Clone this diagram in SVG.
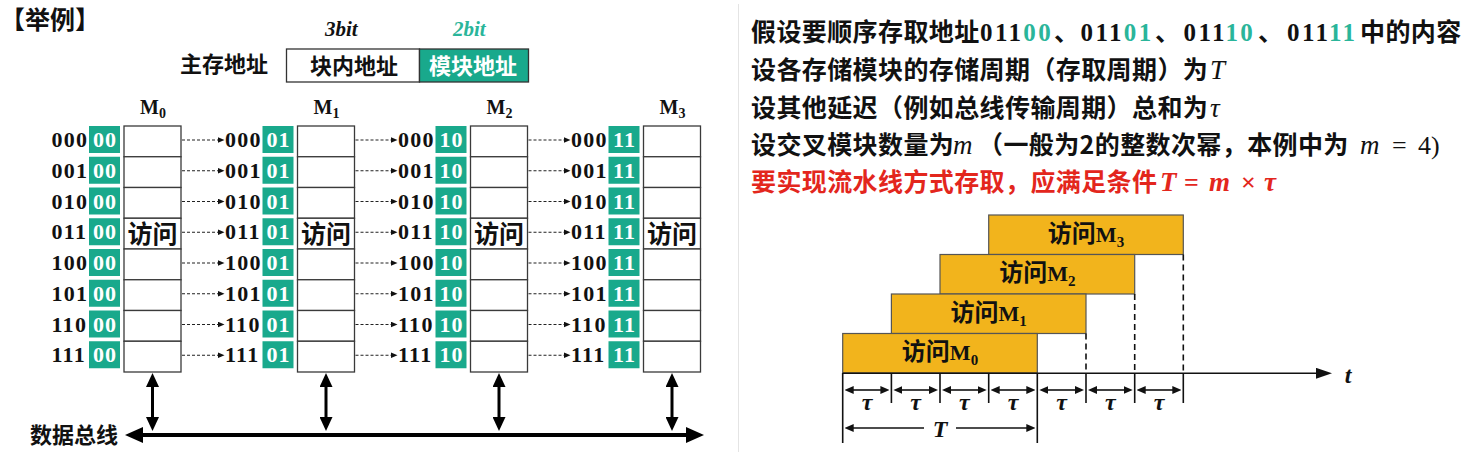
<svg xmlns="http://www.w3.org/2000/svg" width="1467" height="452" viewBox="0 0 1467 452">
<defs>
<style>
.cjk{font-family:"Noto Sans CJK SC","Noto Sans",sans-serif;font-weight:bold;fill:#111}
.ser{font-family:"Liberation Serif",serif;font-weight:bold;fill:#111}
.bin{font-family:"Liberation Serif",serif;font-weight:bold;font-size:22px;letter-spacing:1.3px;fill:#111}
.binw{font-family:"Liberation Serif",serif;font-weight:bold;font-size:22px;letter-spacing:1px;fill:#fff;text-anchor:middle}
.cell{fill:#fff;stroke:#3a3a3a;stroke-width:1.3}
.gbox{fill:#19a98c}
.dash{stroke:#222;stroke-width:1.2;stroke-dasharray:3 2;fill:none;marker-end:url(#ah-s)}
.bus{stroke:#000;stroke-width:4;fill:none;marker-start:url(#ah-b);marker-end:url(#ah-b)}
.vbus{stroke:#000;stroke-width:3;fill:none;marker-start:url(#ah-v);marker-end:url(#ah-v)}
.rt{font-family:"Noto Sans CJK SC","Noto Sans",sans-serif;font-weight:bold;font-size:25px;letter-spacing:0.4px;fill:#111}
.num{font-family:"Liberation Serif",serif;font-weight:bold;font-size:25px;letter-spacing:2.4px}
.math{font-family:"Liberation Serif",serif;font-style:italic;font-weight:normal;font-size:27px;letter-spacing:0}
.up{font-family:"Liberation Serif",serif;font-style:normal;font-weight:normal;font-size:26px;letter-spacing:0}
.bar{fill:#f2b41c;stroke:#555;stroke-width:1.2}
.tick{stroke:#111;stroke-width:1.6}
.vd{stroke:#111;stroke-width:1.6;stroke-dasharray:6 4}
.dim{stroke:#111;stroke-width:1.6;fill:none}
.dimb{stroke:#111;stroke-width:1.6;fill:none;marker-start:url(#ah-t);marker-end:url(#ah-t)}
.tau{font-family:"Liberation Serif",serif;font-style:italic;font-weight:bold;font-size:24px;fill:#111;text-anchor:middle}
</style>
<marker id="ah-s" markerUnits="userSpaceOnUse" markerWidth="7" markerHeight="6" refX="1" refY="3" orient="auto"><path d="M0,0 L7,3 L0,6 z" fill="#111"/></marker>
<marker id="ah-b" markerUnits="userSpaceOnUse" markerWidth="18" markerHeight="16" refX="2" refY="8" orient="auto-start-reverse"><path d="M0,0 L18,8 L0,16 z" fill="#000"/></marker>
<marker id="ah-v" markerUnits="userSpaceOnUse" markerWidth="14" markerHeight="13" refX="2" refY="6.5" orient="auto-start-reverse"><path d="M0,0 L14,6.5 L0,13 z" fill="#000"/></marker>
<marker id="ah-t" markerUnits="userSpaceOnUse" markerWidth="9" markerHeight="8" refX="1" refY="4" orient="auto-start-reverse"><path d="M0,0 L9,4 L0,8 z" fill="#111"/></marker>
<marker id="ah-x" markerUnits="userSpaceOnUse" markerWidth="16" markerHeight="11" refX="1" refY="5.5" orient="auto"><path d="M0,0 L16,5.5 L0,11 z" fill="#111"/></marker>
</defs>
<rect width="1467" height="452" fill="#fff"/>
<line x1="738.5" y1="4" x2="738.5" y2="452" stroke="#e4e4e4" stroke-width="1"/>

<g id="title">
<text class="cjk" x="0" y="29" font-size="25">【举例】</text>
</g>

<g id="address-format">
<text class="ser" x="325" y="36" font-size="21" font-style="italic">3bit</text>
<text class="ser" x="453" y="36" font-size="21" font-style="italic" style="fill:#2ab59a">2bit</text>
<text class="cjk" x="180" y="72" font-size="22">主存地址</text>
<rect x="286.5" y="49" width="133" height="33" fill="#fff" stroke="#333" stroke-width="1.3"/>
<rect x="419.5" y="49" width="109" height="33" class="gbox" stroke="#333" stroke-width="1.3"/>
<text class="cjk" x="310" y="74" font-size="22">块内地址</text>
<text class="cjk" x="429" y="74" font-size="22" style="fill:#fff">模块地址</text>
</g>

<g id="module-m0" transform="translate(124,0)">
<text class="ser" x="16" y="114" font-size="20">M<tspan font-size="14" dy="4">0</tspan></text>
<rect class="cell" x="0" y="126" width="57" height="30.75"/><rect class="cell" x="0" y="156.75" width="57" height="30.75"/><rect class="cell" x="0" y="187.5" width="57" height="30.75"/><rect class="cell" x="0" y="218.25" width="57" height="30.75"/><rect class="cell" x="0" y="249" width="57" height="30.75"/><rect class="cell" x="0" y="279.75" width="57" height="30.75"/><rect class="cell" x="0" y="310.5" width="57" height="30.75"/><rect class="cell" x="0" y="341.25" width="57" height="30.75"/>
<text class="cjk" x="28.5" y="242.5" font-size="25" text-anchor="middle">访问</text>
<rect class="gbox" x="-35" y="126" width="31" height="27"/><rect class="gbox" x="-35" y="156.75" width="31" height="27"/><rect class="gbox" x="-35" y="187.5" width="31" height="27"/><rect class="gbox" x="-35" y="218.25" width="31" height="27"/><rect class="gbox" x="-35" y="249" width="31" height="27"/><rect class="gbox" x="-35" y="279.75" width="31" height="27"/><rect class="gbox" x="-35" y="310.5" width="31" height="27"/><rect class="gbox" x="-35" y="341.25" width="31" height="27"/>
<text class="bin" x="-72.5" y="147">000</text><text class="bin" x="-72.5" y="177.75">001</text><text class="bin" x="-72.5" y="208.5">010</text><text class="bin" x="-72.5" y="239.25">011</text><text class="bin" x="-72.5" y="270">100</text><text class="bin" x="-72.5" y="300.75">101</text><text class="bin" x="-72.5" y="331.5">110</text><text class="bin" x="-72.5" y="362.25">111</text>
<text class="binw" x="-19" y="147">00</text><text class="binw" x="-19" y="177.75">00</text><text class="binw" x="-19" y="208.5">00</text><text class="binw" x="-19" y="239.25">00</text><text class="binw" x="-19" y="270">00</text><text class="binw" x="-19" y="300.75">00</text><text class="binw" x="-19" y="331.5">00</text><text class="binw" x="-19" y="362.25">00</text>
</g>

<g id="module-m1" transform="translate(297.5,0)">
<text class="ser" x="16" y="114" font-size="20">M<tspan font-size="14" dy="4">1</tspan></text>
<rect class="cell" x="0" y="126" width="57" height="30.75"/><rect class="cell" x="0" y="156.75" width="57" height="30.75"/><rect class="cell" x="0" y="187.5" width="57" height="30.75"/><rect class="cell" x="0" y="218.25" width="57" height="30.75"/><rect class="cell" x="0" y="249" width="57" height="30.75"/><rect class="cell" x="0" y="279.75" width="57" height="30.75"/><rect class="cell" x="0" y="310.5" width="57" height="30.75"/><rect class="cell" x="0" y="341.25" width="57" height="30.75"/>
<text class="cjk" x="28.5" y="242.5" font-size="25" text-anchor="middle">访问</text>
<rect class="gbox" x="-35" y="126" width="31" height="27"/><rect class="gbox" x="-35" y="156.75" width="31" height="27"/><rect class="gbox" x="-35" y="187.5" width="31" height="27"/><rect class="gbox" x="-35" y="218.25" width="31" height="27"/><rect class="gbox" x="-35" y="249" width="31" height="27"/><rect class="gbox" x="-35" y="279.75" width="31" height="27"/><rect class="gbox" x="-35" y="310.5" width="31" height="27"/><rect class="gbox" x="-35" y="341.25" width="31" height="27"/>
<text class="bin" x="-72.5" y="147">000</text><text class="bin" x="-72.5" y="177.75">001</text><text class="bin" x="-72.5" y="208.5">010</text><text class="bin" x="-72.5" y="239.25">011</text><text class="bin" x="-72.5" y="270">100</text><text class="bin" x="-72.5" y="300.75">101</text><text class="bin" x="-72.5" y="331.5">110</text><text class="bin" x="-72.5" y="362.25">111</text>
<text class="binw" x="-19" y="147">01</text><text class="binw" x="-19" y="177.75">01</text><text class="binw" x="-19" y="208.5">01</text><text class="binw" x="-19" y="239.25">01</text><text class="binw" x="-19" y="270">01</text><text class="binw" x="-19" y="300.75">01</text><text class="binw" x="-19" y="331.5">01</text><text class="binw" x="-19" y="362.25">01</text>
</g>

<g id="module-m2" transform="translate(470.5,0)">
<text class="ser" x="16" y="114" font-size="20">M<tspan font-size="14" dy="4">2</tspan></text>
<rect class="cell" x="0" y="126" width="57" height="30.75"/><rect class="cell" x="0" y="156.75" width="57" height="30.75"/><rect class="cell" x="0" y="187.5" width="57" height="30.75"/><rect class="cell" x="0" y="218.25" width="57" height="30.75"/><rect class="cell" x="0" y="249" width="57" height="30.75"/><rect class="cell" x="0" y="279.75" width="57" height="30.75"/><rect class="cell" x="0" y="310.5" width="57" height="30.75"/><rect class="cell" x="0" y="341.25" width="57" height="30.75"/>
<text class="cjk" x="28.5" y="242.5" font-size="25" text-anchor="middle">访问</text>
<rect class="gbox" x="-35" y="126" width="31" height="27"/><rect class="gbox" x="-35" y="156.75" width="31" height="27"/><rect class="gbox" x="-35" y="187.5" width="31" height="27"/><rect class="gbox" x="-35" y="218.25" width="31" height="27"/><rect class="gbox" x="-35" y="249" width="31" height="27"/><rect class="gbox" x="-35" y="279.75" width="31" height="27"/><rect class="gbox" x="-35" y="310.5" width="31" height="27"/><rect class="gbox" x="-35" y="341.25" width="31" height="27"/>
<text class="bin" x="-72.5" y="147">000</text><text class="bin" x="-72.5" y="177.75">001</text><text class="bin" x="-72.5" y="208.5">010</text><text class="bin" x="-72.5" y="239.25">011</text><text class="bin" x="-72.5" y="270">100</text><text class="bin" x="-72.5" y="300.75">101</text><text class="bin" x="-72.5" y="331.5">110</text><text class="bin" x="-72.5" y="362.25">111</text>
<text class="binw" x="-19" y="147">10</text><text class="binw" x="-19" y="177.75">10</text><text class="binw" x="-19" y="208.5">10</text><text class="binw" x="-19" y="239.25">10</text><text class="binw" x="-19" y="270">10</text><text class="binw" x="-19" y="300.75">10</text><text class="binw" x="-19" y="331.5">10</text><text class="binw" x="-19" y="362.25">10</text>
</g>

<g id="module-m3" transform="translate(643.5,0)">
<text class="ser" x="16" y="114" font-size="20">M<tspan font-size="14" dy="4">3</tspan></text>
<rect class="cell" x="0" y="126" width="57" height="30.75"/><rect class="cell" x="0" y="156.75" width="57" height="30.75"/><rect class="cell" x="0" y="187.5" width="57" height="30.75"/><rect class="cell" x="0" y="218.25" width="57" height="30.75"/><rect class="cell" x="0" y="249" width="57" height="30.75"/><rect class="cell" x="0" y="279.75" width="57" height="30.75"/><rect class="cell" x="0" y="310.5" width="57" height="30.75"/><rect class="cell" x="0" y="341.25" width="57" height="30.75"/>
<text class="cjk" x="28.5" y="242.5" font-size="25" text-anchor="middle">访问</text>
<rect class="gbox" x="-35" y="126" width="31" height="27"/><rect class="gbox" x="-35" y="156.75" width="31" height="27"/><rect class="gbox" x="-35" y="187.5" width="31" height="27"/><rect class="gbox" x="-35" y="218.25" width="31" height="27"/><rect class="gbox" x="-35" y="249" width="31" height="27"/><rect class="gbox" x="-35" y="279.75" width="31" height="27"/><rect class="gbox" x="-35" y="310.5" width="31" height="27"/><rect class="gbox" x="-35" y="341.25" width="31" height="27"/>
<text class="bin" x="-72.5" y="147">000</text><text class="bin" x="-72.5" y="177.75">001</text><text class="bin" x="-72.5" y="208.5">010</text><text class="bin" x="-72.5" y="239.25">011</text><text class="bin" x="-72.5" y="270">100</text><text class="bin" x="-72.5" y="300.75">101</text><text class="bin" x="-72.5" y="331.5">110</text><text class="bin" x="-72.5" y="362.25">111</text>
<text class="binw" x="-19" y="147">11</text><text class="binw" x="-19" y="177.75">11</text><text class="binw" x="-19" y="208.5">11</text><text class="binw" x="-19" y="239.25">11</text><text class="binw" x="-19" y="270">11</text><text class="binw" x="-19" y="300.75">11</text><text class="binw" x="-19" y="331.5">11</text><text class="binw" x="-19" y="362.25">11</text>
</g>

<g id="data-bus-label">
<text class="cjk" x="30" y="443" font-size="22">数据总线</text>
</g>

<g id="connectors">
<line class="dash" x1="182" y1="140" x2="218.5" y2="140"/><line class="dash" x1="182" y1="170.75" x2="218.5" y2="170.75"/><line class="dash" x1="182" y1="201.5" x2="218.5" y2="201.5"/><line class="dash" x1="182" y1="232.25" x2="218.5" y2="232.25"/><line class="dash" x1="182" y1="263" x2="218.5" y2="263"/><line class="dash" x1="182" y1="293.75" x2="218.5" y2="293.75"/><line class="dash" x1="182" y1="324.5" x2="218.5" y2="324.5"/><line class="dash" x1="182" y1="355.25" x2="218.5" y2="355.25"/>
<line class="dash" x1="355.5" y1="140" x2="391.5" y2="140"/><line class="dash" x1="355.5" y1="170.75" x2="391.5" y2="170.75"/><line class="dash" x1="355.5" y1="201.5" x2="391.5" y2="201.5"/><line class="dash" x1="355.5" y1="232.25" x2="391.5" y2="232.25"/><line class="dash" x1="355.5" y1="263" x2="391.5" y2="263"/><line class="dash" x1="355.5" y1="293.75" x2="391.5" y2="293.75"/><line class="dash" x1="355.5" y1="324.5" x2="391.5" y2="324.5"/><line class="dash" x1="355.5" y1="355.25" x2="391.5" y2="355.25"/>
<line class="dash" x1="528.5" y1="140" x2="564.5" y2="140"/><line class="dash" x1="528.5" y1="170.75" x2="564.5" y2="170.75"/><line class="dash" x1="528.5" y1="201.5" x2="564.5" y2="201.5"/><line class="dash" x1="528.5" y1="232.25" x2="564.5" y2="232.25"/><line class="dash" x1="528.5" y1="263" x2="564.5" y2="263"/><line class="dash" x1="528.5" y1="293.75" x2="564.5" y2="293.75"/><line class="dash" x1="528.5" y1="324.5" x2="564.5" y2="324.5"/><line class="dash" x1="528.5" y1="355.25" x2="564.5" y2="355.25"/>
<line class="vbus" x1="152.5" y1="385" x2="152.5" y2="419"/>
<line class="vbus" x1="326" y1="385" x2="326" y2="419"/>
<line class="vbus" x1="499" y1="385" x2="499" y2="419"/>
<line class="vbus" x1="672" y1="385" x2="672" y2="419"/>
<line class="bus" x1="141" y1="435" x2="688" y2="435"/>
</g>

<g id="assumptions">
<text class="rt" y="40.5"><tspan x="751">假设要顺序存取地址</tspan><tspan x="980" class="num">011<tspan style="fill:#2ab59a">00</tspan></tspan><tspan x="1054">、</tspan><tspan x="1080.5" class="num">011<tspan style="fill:#2ab59a">01</tspan></tspan><tspan x="1155">、</tspan><tspan x="1183.5" class="num">011<tspan style="fill:#2ab59a">10</tspan></tspan><tspan x="1258">、</tspan><tspan x="1287" class="num">011<tspan style="fill:#2ab59a">11</tspan></tspan><tspan x="1360">中的内容</tspan></text>
<text class="rt" y="78.5"><tspan x="751">设各存储模块的存储周期（存取周期）为</tspan><tspan x="1210" class="math">T</tspan></text>
<text class="rt" y="116.5"><tspan x="751">设其他延迟（例如总线传输周期）总和为</tspan><tspan x="1210" class="math">τ</tspan></text>
<text class="rt" y="153.5"><tspan x="751">设交叉模块数量为</tspan><tspan x="953" class="math">m</tspan><tspan x="978">（一般为2的整数次幂，本例中为</tspan><tspan x="1360" class="math">m</tspan><tspan x="1392" class="up">=</tspan><tspan x="1418" class="up">4)</tspan></text>
<text class="rt" y="191" style="fill:#e3261d"><tspan x="751">要实现流水线方式存取，应满足条件</tspan><tspan x="1160" class="math" style="font-weight:bold">T</tspan><tspan x="1184" class="up" style="font-weight:bold">=</tspan><tspan x="1209" class="math" style="font-weight:bold">m</tspan><tspan x="1241" class="up" style="font-weight:bold">×</tspan><tspan x="1264" class="math" style="font-weight:bold">τ</tspan></text>
</g>

<g id="bar-m3">
<rect class="bar" x="988.7" y="215" width="194.6" height="39.5"/>
<text class="cjk" x="1086" y="241.5" font-size="24" text-anchor="middle">访问<tspan class="ser" font-size="22">M</tspan><tspan class="ser" font-size="15" dy="5">3</tspan></text>
</g>
<g id="bar-m2">
<rect class="bar" x="940" y="254.5" width="194.7" height="39.5"/>
<text class="cjk" x="1037.3" y="281" font-size="24" text-anchor="middle">访问<tspan class="ser" font-size="22">M</tspan><tspan class="ser" font-size="15" dy="5">2</tspan></text>
</g>
<g id="bar-m1">
<rect class="bar" x="891.4" y="294" width="194.6" height="39.5"/>
<text class="cjk" x="988.7" y="320.5" font-size="24" text-anchor="middle">访问<tspan class="ser" font-size="22">M</tspan><tspan class="ser" font-size="15" dy="5">1</tspan></text>
</g>
<g id="bar-m0">
<rect class="bar" x="842.7" y="333.5" width="194.6" height="39.5"/>
<text class="cjk" x="940" y="360" font-size="24" text-anchor="middle">访问<tspan class="ser" font-size="22">M</tspan><tspan class="ser" font-size="15" dy="5">0</tspan></text>
</g>

<g id="time-axis">
<line class="dim" x1="842.7" y1="373.3" x2="1317" y2="373.3" stroke-width="2" style="marker-end:url(#ah-x)"/>
<text class="tau" x="1348" y="383" font-size="30">t</text>
<line class="vd" x1="1086" y1="333.5" x2="1086" y2="373"/>
<line class="vd" x1="1134.7" y1="294" x2="1134.7" y2="373"/>
<line class="vd" x1="1183.3" y1="254.5" x2="1183.3" y2="373"/>
<line class="tick" x1="842.7" y1="373" x2="842.7" y2="443"/>
<line class="tick" x1="891.4" y1="373" x2="891.4" y2="403"/>
<line class="tick" x1="940" y1="373" x2="940" y2="403"/>
<line class="tick" x1="988.7" y1="373" x2="988.7" y2="403"/>
<line class="tick" x1="1037.3" y1="373" x2="1037.3" y2="443"/>
<line class="tick" x1="1086" y1="373" x2="1086" y2="403"/>
<line class="tick" x1="1134.7" y1="373" x2="1134.7" y2="403"/>
<line class="tick" x1="1183.3" y1="373" x2="1183.3" y2="403"/>
<line class="dimb" x1="852.7" y1="390" x2="881.4" y2="390"/>
<line class="dimb" x1="901.4" y1="390" x2="930" y2="390"/>
<line class="dimb" x1="950" y1="390" x2="978.7" y2="390"/>
<line class="dimb" x1="998.7" y1="390" x2="1027.3" y2="390"/>
<line class="dimb" x1="1047.3" y1="390" x2="1076" y2="390"/>
<line class="dimb" x1="1096" y1="390" x2="1124.7" y2="390"/>
<line class="dimb" x1="1144.7" y1="390" x2="1173.3" y2="390"/>
<text class="tau" x="867" y="410">τ</text>
<text class="tau" x="915.7" y="410">τ</text>
<text class="tau" x="964.3" y="410">τ</text>
<text class="tau" x="1013" y="410">τ</text>
<text class="tau" x="1061.7" y="410">τ</text>
<text class="tau" x="1110.3" y="410">τ</text>
<text class="tau" x="1159" y="410">τ</text>
<line class="dim" x1="924" y1="428" x2="852.7" y2="428" style="marker-end:url(#ah-t)"/>
<line class="dim" x1="956" y1="428" x2="1027.3" y2="428" style="marker-end:url(#ah-t)"/>
<text class="tau" x="940" y="437" font-size="26">T</text>
</g>
</svg>
